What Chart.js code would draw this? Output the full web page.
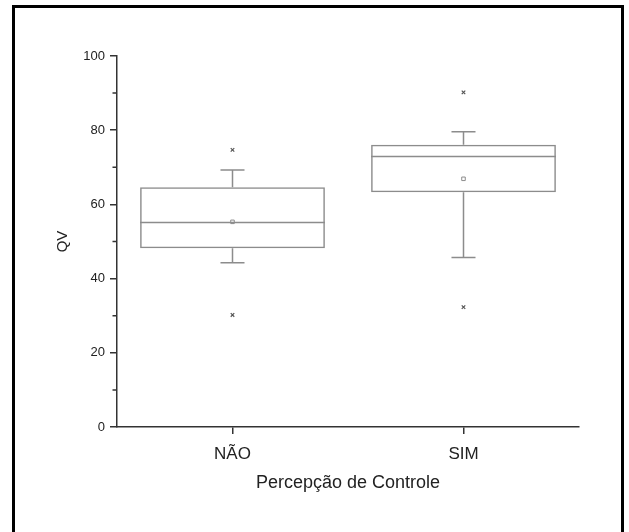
<!DOCTYPE html>
<html>
<head>
<meta charset="utf-8">
<script src="https://cdn.jsdelivr.net/npm/chart.js@4"></script>
<style>
  html, body { margin: 0; padding: 0; background: #fff; }
  #frame {
    position: absolute; left: 12px; top: 5px; width: 612px; height: 540px;
    box-sizing: border-box; border: 3px solid #000;
  }
  #box { position: absolute; left: 0; top: 0; }
</style>
</head>
<body>
<div id="frame"></div>
<canvas id="box" width="629" height="532"></canvas>
<script>
// Dados do boxplot
const categories = ["NÃO", "SIM"];
const q1 = [48.2, 63.3];
const q3 = [64.6, 76.1];
const median = [55.1, 72.9];
const whiskerLow = [44.3, 45.7];
const whiskerHigh = [69.3, 79.6];
const means = [55.3, 66.9];
const outlierHigh = [74.7, 90.2];
const outlierLow = [30.2, 32.3];
const yMinorTicks = [10, 30, 50, 70, 90];

const boxColor = "#8c8c8c";
const axisColor = "#333";
const textColor = "#222";
const fontFamily = "Arial, 'Liberation Sans', sans-serif";

// Desenha mediana e bigodes por cima das caixas
const whiskerPlugin = {
    id: "whiskers",
    afterDatasetDraw(chart, args) {
        if (args.index !== 0) return;
        const { ctx } = chart;
        const y = chart.scales.y;
        const bars = chart.getDatasetMeta(0).data;
        ctx.save();
        ctx.strokeStyle = boxColor;
        ctx.lineWidth = 1.5;
        bars.forEach((bar, i) => {
            const cx = bar.x;
            const half = bar.width / 2;
            const cap = bar.width * 0.065;
            const yMed = y.getPixelForValue(median[i]);
            const yQ1 = y.getPixelForValue(q1[i]);
            const yQ3 = y.getPixelForValue(q3[i]);
            const yLo = y.getPixelForValue(whiskerLow[i]);
            const yHi = y.getPixelForValue(whiskerHigh[i]);
            ctx.beginPath();
            ctx.moveTo(cx - half, yMed); ctx.lineTo(cx + half, yMed);
            ctx.moveTo(cx, yQ3); ctx.lineTo(cx, yHi);
            ctx.moveTo(cx - cap, yHi); ctx.lineTo(cx + cap, yHi);
            ctx.moveTo(cx, yQ1); ctx.lineTo(cx, yLo);
            ctx.moveTo(cx - cap, yLo); ctx.lineTo(cx + cap, yLo);
            ctx.stroke();
        });
        ctx.restore();
    },
    afterDraw(chart) {
        // marcas menores do eixo Y
        const { ctx } = chart;
        const y = chart.scales.y;
        ctx.save();
        ctx.strokeStyle = axisColor;
        ctx.lineWidth = 1.5;
        ctx.beginPath();
        yMinorTicks.forEach(v => {
            const py = y.getPixelForValue(v);
            ctx.moveTo(y.right - 4.5, py);
            ctx.lineTo(y.right, py);
        });
        ctx.stroke();
        ctx.restore();
    }
};

const config = {
    type: "bar",
    data: {
        labels: categories,
        datasets: [
            {
                type: "bar",
                data: categories.map((c, i) => [q1[i], q3[i]]),
                backgroundColor: "rgba(0,0,0,0)",
                borderColor: boxColor,
                borderWidth: 1.5,
                borderSkipped: false,
                barPercentage: 0.8,
                categoryPercentage: 1,
                grouped: false,
            },
            {
                type: "line",
                data: means,
                showLine: false,
                pointStyle: "rect",
                pointRadius: 2.5,
                pointBackgroundColor: "#fff",
                pointBorderColor: boxColor,
                pointBorderWidth: 1,
            },
            {
                type: "line",
                data: outlierHigh,
                showLine: false,
                pointStyle: "crossRot",
                pointRadius: 2.5,
                pointBorderColor: "#555",
                pointBorderWidth: 1.2,
            },
            {
                type: "line",
                data: outlierLow,
                showLine: false,
                pointStyle: "crossRot",
                pointRadius: 2.5,
                pointBorderColor: "#555",
                pointBorderWidth: 1.2,
            },
        ],
    },
    options: {
        responsive: false,
        animation: false,
        devicePixelRatio: 1,
        layout: { padding: { top: 56, right: 50, bottom: 0, left: 0 } },
        plugins: {
            legend: { display: false },
            tooltip: { enabled: false },
        },
        scales: {
            x: {
                type: "category",
                offset: true,
                afterFit: scale => { scale.height = 105; },
                grid: {
                    drawOnChartArea: false,
                    offset: false,
                    tickLength: 7,
                    color: axisColor,
                    lineWidth: 1.5,
                },
                border: { color: axisColor, width: 1.5 },
                ticks: {
                    color: textColor,
                    padding: 10,
                    font: { family: fontFamily, size: 17 },
                },
                title: {
                    display: true,
                    text: "Percepção de Controle",
                    color: textColor,
                    font: { family: fontFamily, size: 18 },
                    padding: { top: 0, bottom: 38 },
                },
            },
            y: {
                min: 0,
                max: 100,
                afterFit: scale => { scale.width = 117; },
                grid: {
                    drawOnChartArea: false,
                    tickLength: 7,
                    color: axisColor,
                    lineWidth: 1.5,
                },
                border: { color: axisColor, width: 1.5 },
                ticks: {
                    stepSize: 20,
                    color: textColor,
                    padding: 5,
                    font: { family: fontFamily, size: 13 },
                },
                title: {
                    display: true,
                    text: "QV",
                    color: textColor,
                    font: { family: fontFamily, size: 15 },
                    padding: { top: 54, bottom: 0 },
                },
            },
        },
    },
    plugins: [whiskerPlugin],
};

const boxChart = new Chart(document.getElementById("box"), config);
</script>
</body>
</html>
